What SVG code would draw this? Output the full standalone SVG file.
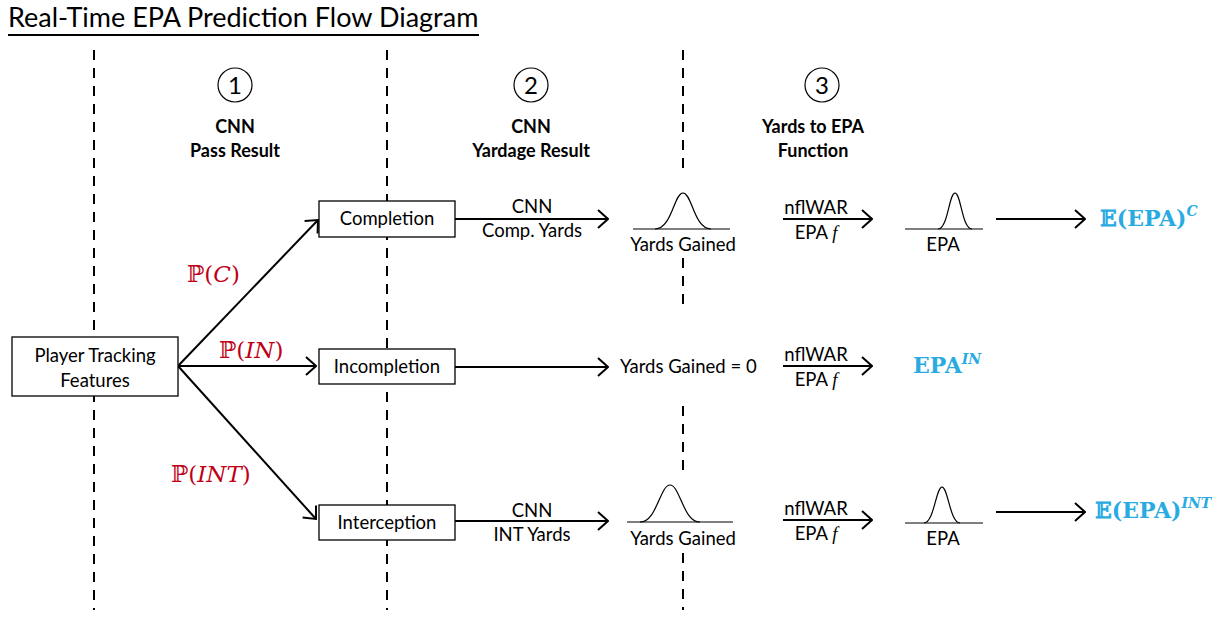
<svg xmlns="http://www.w3.org/2000/svg" width="1232" height="620" viewBox="0 0 1232 620">
<defs>
<marker id="arr" viewBox="0 0 12 20" refX="11" refY="10" markerWidth="12" markerHeight="20" markerUnits="userSpaceOnUse" orient="auto">
<path d="M1,1 L11,10 L1,19" fill="none" stroke="#000" stroke-width="2"/>
</marker>
<style>
.t{font-family:Lato,"Liberation Sans",Arial,sans-serif;font-size:18.5px;fill:#000;}
.h{font-family:Lato,"Liberation Sans",Arial,sans-serif;font-size:18px;font-weight:bold;fill:#000;text-anchor:middle;}
.c{text-anchor:middle;}
.box{fill:#fff;stroke:#000;stroke-width:1.3;}
.dash{stroke:#000;stroke-width:2;stroke-dasharray:10,8;fill:none;}
.ar{stroke:#000;stroke-width:2;fill:none;marker-end:url(#arr);}
.circ{fill:#fff;stroke:#000;stroke-width:1.2;}
.num{font-family:Lato,"Liberation Sans",Arial,sans-serif;font-size:24px;text-anchor:middle;fill:#000;}
.red{font-family:"DejaVu Serif","Liberation Serif",serif;font-size:23px;fill:#c00018;}
.blue{font-family:"DejaVu Serif","Liberation Serif",serif;font-size:22px;font-weight:bold;fill:#29abe2;}
.base{stroke:#555;stroke-width:1.5;}
.bell{fill:none;stroke:#000;stroke-width:1.2;}
</style>
</defs>

<text x="8" y="27" style="font-family:Lato,'Liberation Sans',Arial,sans-serif;font-size:27px;fill:#000;">Real-Time EPA Prediction Flow Diagram</text>
<line x1="8" y1="35" x2="479" y2="35" stroke="#000" stroke-width="2"/>

<g id="dividers">
<line class="dash" x1="94" y1="50" x2="94" y2="610"/>
<line class="dash" x1="387" y1="50" x2="387" y2="610"/>
<line class="dash" x1="683" y1="50" x2="683" y2="175"/>
<line class="dash" x1="683" y1="258" x2="683" y2="306"/>
<line class="dash" x1="683" y1="406" x2="683" y2="474"/>
<line class="dash" x1="683" y1="553" x2="683" y2="610"/>
</g>

<g id="step1">
<circle class="circ" cx="235" cy="85" r="17"/>
<text class="num" x="235" y="94">1</text>
<text class="h" x="235" y="133">CNN</text>
<text class="h" x="235" y="157">Pass Result</text>
</g>
<g id="step2">
<circle class="circ" cx="531" cy="85" r="17"/>
<text class="num" x="531" y="94">2</text>
<text class="h" x="531" y="133">CNN</text>
<text class="h" x="531" y="157">Yardage Result</text>
</g>
<g id="step3">
<circle class="circ" cx="822" cy="85" r="17"/>
<text class="num" x="822" y="94">3</text>
<text class="h" x="813" y="133">Yards to EPA</text>
<text class="h" x="813" y="157">Function</text>
</g>

<g id="connectors">
<line class="ar" x1="178" y1="366" x2="318" y2="220"/>
<line class="ar" x1="178" y1="366" x2="316" y2="366"/>
<line class="ar" x1="178" y1="366" x2="316" y2="519"/>
<line class="ar" x1="455" y1="219" x2="608" y2="219"/>
<line class="ar" x1="455" y1="367" x2="608" y2="367"/>
<line class="ar" x1="455" y1="521" x2="608" y2="521"/>
<line class="ar" x1="783" y1="219" x2="872" y2="219"/>
<line class="ar" x1="783" y1="366" x2="872" y2="366"/>
<line class="ar" x1="783" y1="520" x2="872" y2="520"/>
<line class="ar" x1="996" y1="219" x2="1085" y2="219"/>
<line class="ar" x1="996" y1="512" x2="1085" y2="512"/>
</g>

<g id="edge-labels">
<text class="red" x="187" y="282">ℙ(<tspan font-style="italic">C</tspan>)</text>
<text class="red" x="219" y="358">ℙ(<tspan font-style="italic">IN</tspan>)</text>
<text class="red" x="171" y="482">ℙ(<tspan font-style="italic">INT</tspan>)</text>
<text class="t c" x="532" y="213">CNN</text>
<text class="t c" x="532" y="237">Comp. Yards</text>
<text class="t c" x="532" y="517">CNN</text>
<text class="t c" x="532" y="541">INT Yards</text>
<text class="t c" x="816" y="214">nflWAR</text>
<text class="t c" x="816" y="239">EPA <tspan font-style="italic" font-family="Liberation Serif,serif">f</tspan></text>
<text class="t c" x="816" y="361">nflWAR</text>
<text class="t c" x="816" y="386">EPA <tspan font-style="italic" font-family="Liberation Serif,serif">f</tspan></text>
<text class="t c" x="816" y="515">nflWAR</text>
<text class="t c" x="816" y="540">EPA <tspan font-style="italic" font-family="Liberation Serif,serif">f</tspan></text>
</g>

<g id="player-tracking">
<rect class="box" x="12" y="337" width="166" height="59"/>
<text class="t c" x="95" y="362">Player Tracking</text>
<text class="t c" x="95" y="387">Features</text>
</g>
<g id="completion">
<rect class="box" x="319" y="201" width="136" height="36"/>
<text class="t c" x="387" y="225">Completion</text>
</g>
<g id="incompletion">
<rect class="box" x="319" y="349" width="136" height="35"/>
<text class="t c" x="387" y="373">Incompletion</text>
</g>
<g id="interception">
<rect class="box" x="319" y="505" width="136" height="35"/>
<text class="t c" x="387" y="529">Interception</text>
</g>

<g id="yards-c">
<line class="base" x1="633" y1="229" x2="730" y2="229"/>
<path class="bell" d="M655,229 C672,229 674,193 683,193 C692,193 694,229 711,229"/>
<text class="t c" x="683" y="251">Yards Gained</text>
</g>
<g id="epa-c">
<line class="base" x1="905" y1="229" x2="983" y2="229"/>
<path class="bell" d="M938,229 C948,229 949,193 955,193 C961,193 962,229 972,229"/>
<text class="t c" x="943" y="251">EPA</text>
</g>
<g id="result-c">
<text class="blue" x="1100" y="226">𝔼(EPA)<tspan font-size="14" font-style="italic" dy="-10">C</tspan></text>
</g>

<g id="yards-zero">
<text class="t" x="620" y="373">Yards Gained = 0</text>
</g>
<g id="result-in">
<text class="blue" x="913" y="373">EPA<tspan font-size="14" font-style="italic" dy="-9">IN</tspan></text>
</g>

<g id="yards-int">
<line class="base" x1="627" y1="522" x2="733" y2="522"/>
<path class="bell" d="M640,522 C657,522 660,485 670,485 C680,485 683,522 700,522"/>
<text class="t c" x="683" y="545">Yards Gained</text>
</g>
<g id="epa-int">
<line class="base" x1="905" y1="523" x2="983" y2="523"/>
<path class="bell" d="M924,523 C934,523 936,487 942,487 C948,487 950,523 960,523"/>
<text class="t c" x="943" y="545">EPA</text>
</g>
<g id="result-int">
<text class="blue" x="1095" y="518">𝔼(EPA)<tspan font-size="14" font-style="italic" dy="-10">INT</tspan></text>
</g>
</svg>
